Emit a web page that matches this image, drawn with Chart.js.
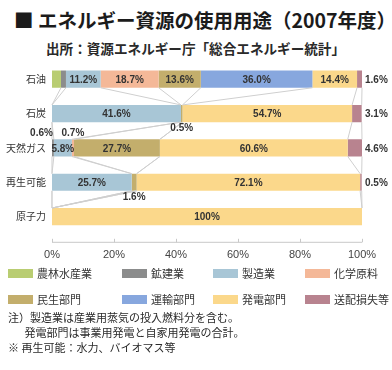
<!DOCTYPE html>
<html lang="ja">
<head>
<meta charset="utf-8">
<script src="https://cdn.jsdelivr.net/npm/chart.js@4.4.1/dist/chart.umd.min.js"></script>
<style>
  html, body { margin: 0; padding: 0; background: #fff; }
  body { width: 392px; height: 370px; position: relative; overflow: hidden;
         font-family: 'Liberation Sans', 'Noto Sans CJK JP', sans-serif; color: #222; }
  #title { position: absolute; left: 14px; top: 5px; font-size: 19.5px; font-weight: bold;
           font-family: 'Noto Sans CJK JP', sans-serif; white-space: nowrap; color: #1b1b1b; }
  #source { position: absolute; left: 46px; top: 38px; font-size: 13.6px; font-weight: bold;
            font-family: 'Noto Sans CJK JP', sans-serif; white-space: nowrap; color: #2a2a2a; }
  #wrap { position: absolute; left: 0; top: 50px; width: 392px; height: 229px; }
  #legend { position: absolute; left: 0; top: 265px; width: 392px; height: 44px; }
  .item { position: absolute; font-size: 11px; font-family: 'Noto Sans CJK JP', sans-serif;
          color: #333; white-space: nowrap; line-height: 14px; }
  .swatch { position: absolute; width: 25px; height: 9px; }
  #notes { position: absolute; left: 8px; top: 310px; font-size: 11px; line-height: 14.5px;
           font-family: 'Noto Sans CJK JP', sans-serif; color: #2a2a2a; white-space: nowrap; }
</style>
</head>
<body>
<div id="title">■ エネルギー資源の使用用途（2007年度）</div>
<div id="source">出所：資源エネルギー庁「総合エネルギー統計」</div>
<div id="wrap"><canvas id="usage-chart" width="392" height="229"></canvas></div>
<div id="legend"></div>
<div id="notes">
  注）製造業は産業用蒸気の投入燃料分を含む。<br>
  &emsp;&ensp;発電部門は事業用発電と自家用発電の合計。<br>
  <span style="position:relative;top:1px">※ 再生可能：水力、バイオマス等</span>
</div>
<script>
// エネルギー資源ごとの使用用途 (%)
const sources = ['石油', '石炭', '天然ガス', '再生可能', '原子力'];
const seriesNames = ['農林水産業', '鉱建業', '製造業', '化学原料', '民生部門', '運輸部門', '発電部門', '送配損失等'];

const agriculture   = [2.9, 0, 0, 0, 0];
const mining        = [1.6, 0, 0.6, 0, 0];
const manufacturing = [11.2, 41.6, 5.8, 25.7, 0];
const chemical      = [18.7, 0, 0.7, 0, 0];
const residential   = [13.6, 0.5, 27.7, 1.6, 0];
const transport     = [36.0, 0, 0, 0, 0];
const power         = [14.4, 54.7, 60.6, 72.1, 100];
const losses        = [1.6, 3.1, 4.6, 0.5, 0];

const xTicks = [0, 20, 40, 60, 80, 100];

const seriesValues = [agriculture, mining, manufacturing, chemical, residential, transport, power, losses];
const seriesColors = ['#b9cd72', '#8b8c8c', '#a8c6d6', '#f4b898', '#c3ae6c', '#87a7de', '#fbd88b', '#b8838f'];

// ラベルの置き場所 (行-系列)。指定なし = バーの中
const labelPlace = {
    '0-0': 'none', '0-1': 'none', '0-7': 'right',
    '1-4': 'below', '1-7': 'right',
    '2-1': 'aboveLeft', '2-3': 'above', '2-7': 'right',
    '3-4': 'below', '3-7': 'right'
};

// 凡例 (HTML)
const legendBox = document.getElementById('legend');
const colX = [8, 122, 213, 305];
seriesNames.forEach((name, i) => {
    const col = i % 4, row = Math.floor(i / 4);
    const top = row * 26 + 4;
    const sw = document.createElement('div');
    sw.className = 'swatch';
    sw.style.left = colX[col] + 'px';
    sw.style.top = top + 'px';
    sw.style.background = seriesColors[i];
    legendBox.appendChild(sw);
    const txt = document.createElement('div');
    txt.className = 'item';
    txt.style.left = (colX[col] + 29) + 'px';
    txt.style.top = (top - 3) + 'px';
    txt.textContent = name;
    legendBox.appendChild(txt);
});

const fmt = v => (v === 100 ? '100%' : v.toFixed(1) + '%');

// Excelの「区分線」みたいに隣のバーの境目をつなぐ
const seriesLines = {
    id: 'seriesLines',
    afterDatasetsDraw(chart) {
        const ctx = chart.ctx;
        ctx.save();
        ctx.strokeStyle = '#cfcfcf';
        ctx.lineWidth = 1;
        chart.data.datasets.forEach((ds, d) => {
            const bars = chart.getDatasetMeta(d).data;
            for (let i = 0; i < bars.length - 1; i++) {
                const a = bars[i], b = bars[i + 1];
                ctx.beginPath();
                ctx.moveTo(a.x, a.y + a.height / 2);
                ctx.lineTo(b.x, b.y - b.height / 2);
                ctx.stroke();
            }
        });
        ctx.restore();
    }
};

const valueLabels = {
    id: 'valueLabels',
    afterDatasetsDraw(chart) {
        const ctx = chart.ctx;
        const area = chart.chartArea;
        ctx.save();
        ctx.font = 'bold 10px "Liberation Sans", sans-serif';
        ctx.fillStyle = '#333';
        chart.data.datasets.forEach((ds, d) => {
            chart.getDatasetMeta(d).data.forEach((bar, i) => {
                const v = ds.data[i];
                if (!v) return;
                const place = labelPlace[i + '-' + d] || 'inside';
                const top = bar.y - bar.height / 2, bottom = bar.y + bar.height / 2;
                const mid = (bar.x + bar.base) / 2;
                if (place === 'none') return;
                if (place === 'inside') {
                    ctx.textAlign = 'center'; ctx.textBaseline = 'middle';
                    ctx.fillText(fmt(v), mid, bar.y + 1);
                } else if (place === 'right') {
                    ctx.textAlign = 'left'; ctx.textBaseline = 'middle';
                    ctx.fillText(fmt(v), area.right + 3, bar.y + 1);
                } else if (place === 'below') {
                    ctx.textAlign = 'center'; ctx.textBaseline = 'top';
                    ctx.fillText(fmt(v), mid, bottom + 1);
                } else if (place === 'above') {
                    ctx.textAlign = 'center'; ctx.textBaseline = 'bottom';
                    ctx.fillText(fmt(v), mid, top - 1);
                } else if (place === 'aboveLeft') {
                    ctx.textAlign = 'right'; ctx.textBaseline = 'bottom';
                    ctx.fillText(fmt(v), bar.x - 1, top - 1);
                }
            });
        });
        ctx.restore();
    }
};

// x軸の線はバーから少し離して描く
const axisLine = {
    id: 'axisLine',
    afterDraw(chart) {
        const ctx = chart.ctx;
        const x = chart.scales.x;
        const y = chart.chartArea.bottom + 8;
        ctx.save();
        ctx.strokeStyle = '#c8c8c8';
        ctx.lineWidth = 1;
        ctx.beginPath();
        ctx.moveTo(x.left, y + 0.5);
        ctx.lineTo(x.right, y + 0.5);
        xTicks.forEach(t => {
            const px = Math.round(x.getPixelForValue(t)) + 0.5;
            ctx.moveTo(px, y - 3);
            ctx.lineTo(px, y + 0.5);
        });
        ctx.stroke();
        ctx.restore();
    }
};

Chart.defaults.font.family = "'Liberation Sans', 'Noto Sans CJK JP', sans-serif";

const ctx = document.getElementById('usage-chart').getContext('2d');
const usageChart = new Chart(ctx, {
    type: 'bar',
    data: {
        labels: sources,
        datasets: seriesNames.map((name, i) => ({
            label: name,
            data: seriesValues[i],
            backgroundColor: seriesColors[i],
            borderWidth: 0,
            barPercentage: 0.5,
            categoryPercentage: 1
        }))
    },
    options: {
        indexAxis: 'y',
        responsive: false,
        animation: false,
        layout: { padding: { top: 5, right: 30, bottom: 2, left: 0 } },
        scales: {
            x: {
                stacked: true,
                min: 0,
                max: 100,
                afterBuildTicks: scale => { scale.ticks = xTicks.map(v => ({ value: v })); },
                ticks: {
                    callback: v => v + '%',
                    font: { size: 11 },
                    color: '#444',
                    padding: 15,
                    maxRotation: 0
                },
                grid: { display: false, drawTicks: false },
                border: { display: false }
            },
            y: {
                stacked: true,
                ticks: {
                    font: { size: 10, family: "'Noto Sans CJK JP', sans-serif" },
                    color: '#333',
                    padding: 6
                },
                grid: { display: false, drawTicks: false },
                border: { display: false }
            }
        },
        plugins: {
            legend: { display: false },
            tooltip: { enabled: false }
        }
    },
    plugins: [seriesLines, valueLabels, axisLine]
});
</script>
</body>
</html>
